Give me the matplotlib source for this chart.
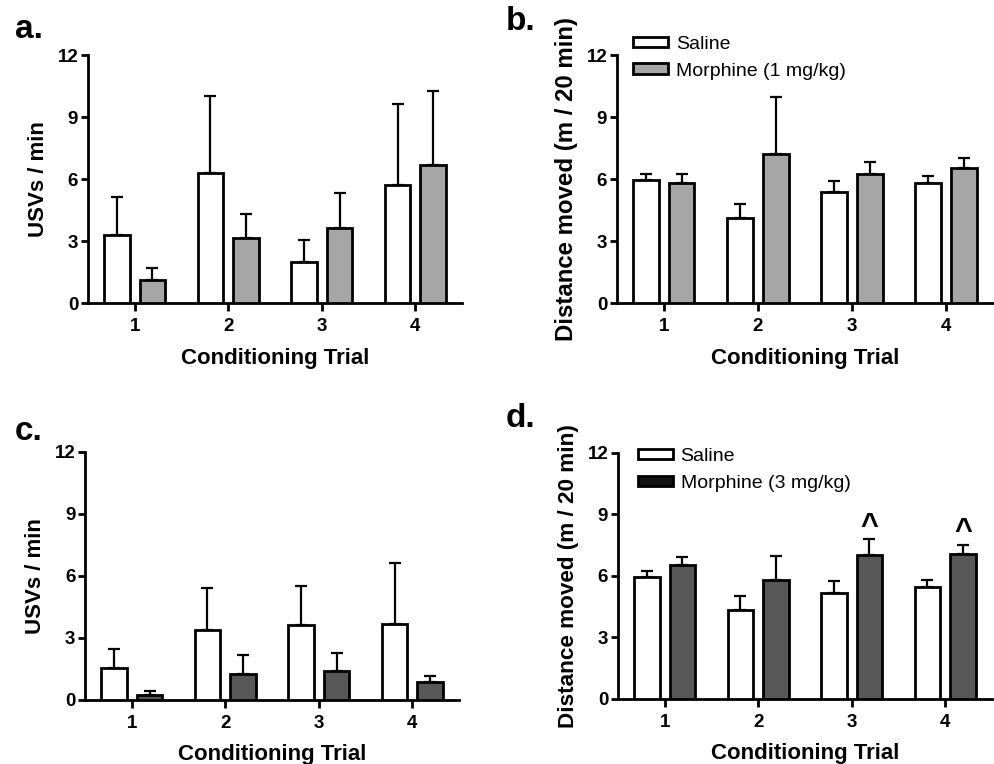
import numpy as np
import matplotlib
matplotlib.use('Agg')
import matplotlib.pyplot as plt
from matplotlib.patches import Patch

plt.rcParams['font.family'] = ['Liberation Sans', 'DejaVu Sans']

trials = [1, 2, 3, 4]

# Panel a: USVs, morphine 1 mg/kg
a_sal = [3.30, 6.30, 2.00, 5.69]
a_sal_err = [1.81, 3.74, 1.03, 3.93]
a_mor = [1.10, 3.13, 3.61, 6.67]
a_mor_err = [0.58, 1.17, 1.71, 3.61]

# Panel b: distance, morphine 1 mg/kg
b_sal = [5.96, 4.11, 5.38, 5.83]
b_sal_err = [0.29, 0.69, 0.52, 0.32]
b_mor = [5.83, 7.22, 6.23, 6.52]
b_mor_err = [0.40, 2.74, 0.58, 0.49]

# Panel c: USVs, morphine 3 mg/kg
c_sal = [1.56, 3.38, 3.64, 3.66]
c_sal_err = [0.89, 2.05, 1.87, 2.98]
c_mor = [0.24, 1.24, 1.42, 0.85]
c_mor_err = [0.19, 0.93, 0.87, 0.31]

# Panel d: distance, morphine 3 mg/kg
d_sal = [5.93, 4.35, 5.19, 5.48]
d_sal_err = [0.33, 0.68, 0.58, 0.33]
d_mor = [6.53, 5.79, 7.02, 7.05]
d_mor_err = [0.41, 1.18, 0.76, 0.46]
d_marks = [False, False, True, True]

light_grey = '#a6a6a6'
dark_grey = '#575757'
bw = 0.27
off = 0.19
lw = 2.0

fig = plt.figure(figsize=(9.95, 7.64), dpi=100)

def panel(rect, sal, sal_err, mor, mor_err, mor_color, ylabel, ylabel_size=16, xpad=9.5):
    ax = fig.add_axes(rect)
    x = np.array(trials)
    for xs, vals, errs, col in [(x - off, sal, sal_err, 'white'), (x + off, mor, mor_err, mor_color)]:
        ax.errorbar(xs, vals, yerr=[np.zeros(len(vals)), errs], fmt='none',
                    ecolor='black', elinewidth=1.6, capsize=4.5, capthick=1.6, zorder=2)
        ax.bar(xs, vals, width=bw, color=col, edgecolor='black', linewidth=lw, zorder=3)
    ax.set_xlim(0.5, 4.5)
    ax.set_ylim(0, 12)
    ax.set_yticks([0, 3, 6, 9, 12])
    ax.set_xticks(trials)
    for s in ['top', 'right']:
        ax.spines[s].set_visible(False)
    for s in ['left', 'bottom']:
        ax.spines[s].set_linewidth(2.0)
    ax.tick_params(axis='y', width=2.0, length=5, labelsize=13.5, pad=2)
    ax.tick_params(axis='x', width=2.0, length=6, labelsize=13.5, pad=5)
    for lab in ax.get_xticklabels() + ax.get_yticklabels():
        lab.set_fontweight('bold')
    ax.set_ylabel(ylabel, fontsize=ylabel_size, fontweight='bold', labelpad=6)
    ax.set_xlabel('Conditioning Trial', fontsize=16, fontweight='bold', labelpad=xpad)
    return ax

ax_a = panel([0.0884, 0.6034, 0.376, 0.3246], a_sal, a_sal_err, a_mor, a_mor_err,
             light_grey, 'USVs / min')
ax_b = panel([0.620, 0.6034, 0.378, 0.3246], b_sal, b_sal_err, b_mor, b_mor_err,
             light_grey, 'Distance moved (m / 20 min)', 17.3)
ax_c = panel([0.0854, 0.0838, 0.376, 0.3246], c_sal, c_sal_err, c_mor, c_mor_err,
             dark_grey, 'USVs / min', xpad=8.5)
ax_d = panel([0.621, 0.0851, 0.376, 0.322], d_sal, d_sal_err, d_mor, d_mor_err,
             dark_grey, 'Distance moved (m / 20 min)', 16.2, xpad=8.5)

# significance marks in d
for t, m, v, e in zip(trials, d_marks, d_mor, d_mor_err):
    if m:
        ax_d.text(t + off, v + e - 0.1, '^', ha='center', va='bottom',
                  fontsize=22, fontweight='bold')

def legend(ax, mor_color, dose, anchor):
    handles = [Patch(facecolor='white', edgecolor='black', linewidth=2.0, label='Saline'),
               Patch(facecolor=mor_color, edgecolor='black', linewidth=2.0,
                     label=f'Morphine ({dose} mg/kg)')]
    ax.legend(handles=handles, loc='upper left', bbox_to_anchor=anchor, frameon=False,
              fontsize=14, handlelength=1.8, handleheight=0.45, handletextpad=0.4,
              labelspacing=0.5, borderpad=0, borderaxespad=0)

legend(ax_b, light_grey, 1, (0.043, 1.077))
legend(ax_d, '#111111', 3, (0.053, 1.02))

# panel letters
for txt, x, y in [('a.', 0.015, 0.962), ('b.', 0.508, 0.972), ('c.', 0.015, 0.435), ('d.', 0.508, 0.452)]:
    fig.text(x, y, txt, fontsize=24, fontweight='bold', ha='left', va='center')

fig.savefig('out.png', dpi=100)
